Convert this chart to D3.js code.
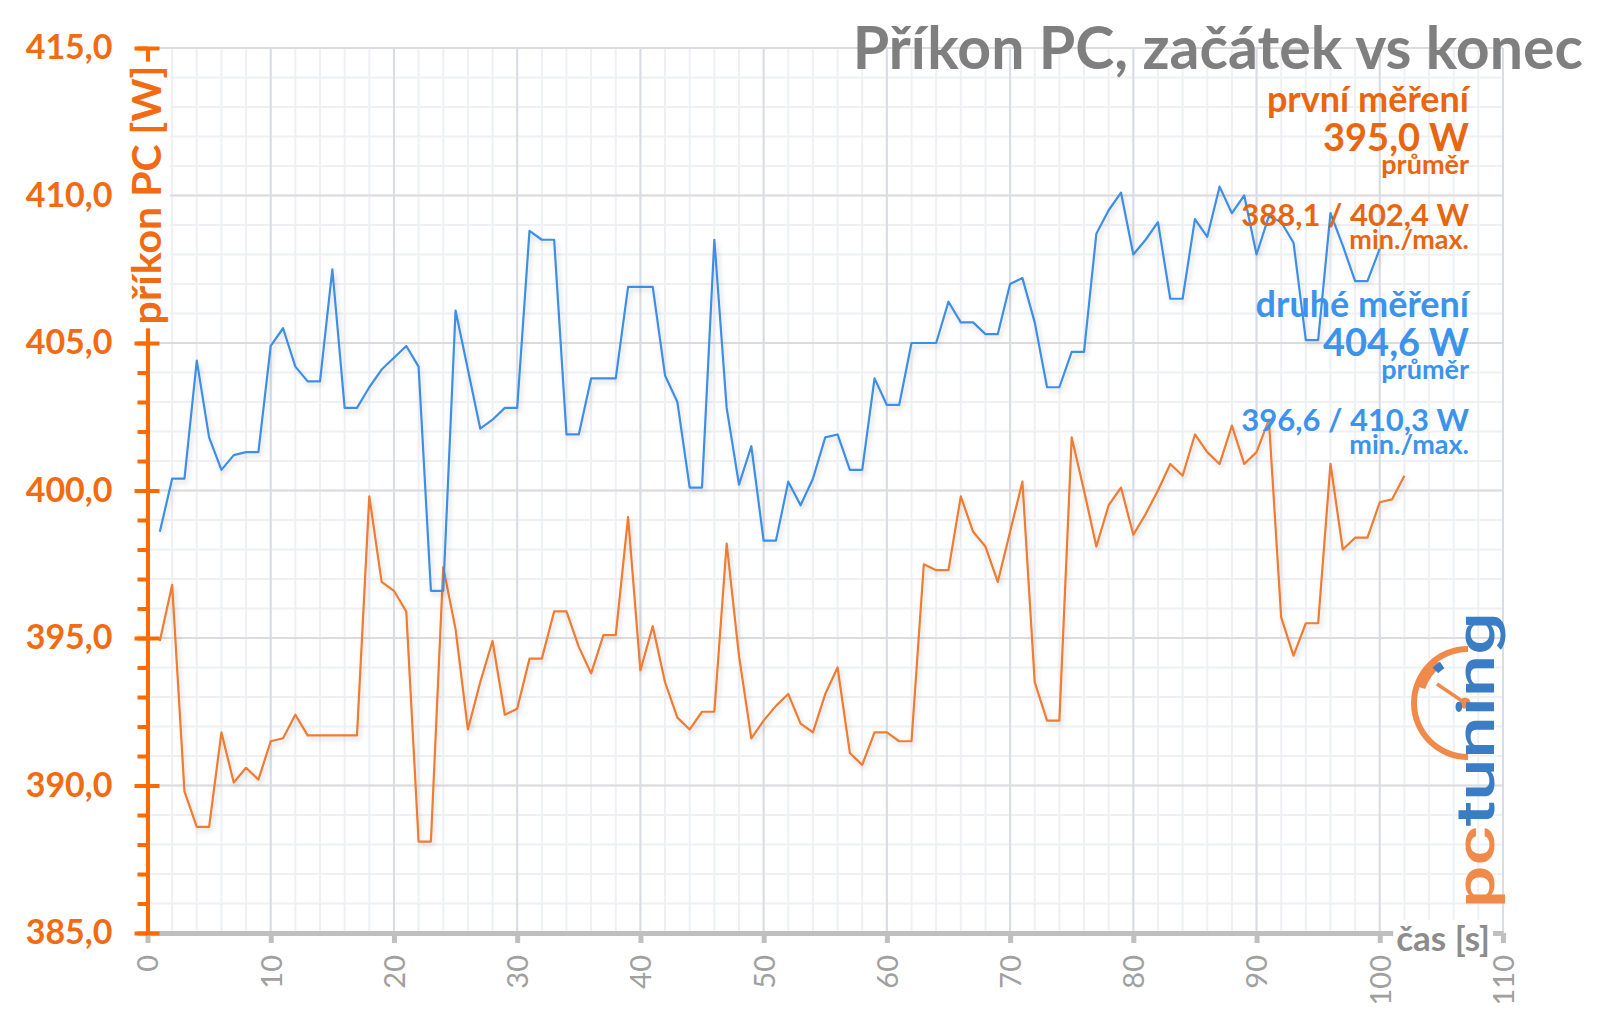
<!DOCTYPE html>
<html>
<head>
<meta charset="utf-8">
<script src="https://cdn.jsdelivr.net/npm/d3@7"></script>
<style>
  body { margin: 0; background: #fff; }
  svg { font-family: Lato, "Open Sans", sans-serif; }
</style>
</head>
<body>
<svg id="chart" width="1600" height="1017"></svg>
<script>
// time axis [s], one sample each second
let seconds = [
  1, 2, 3, 4, 5, 6, 7, 8, 9, 10, 11, 12, 13, 14, 15, 16, 17, 18, 19, 20,
  21, 22, 23, 24, 25, 26, 27, 28, 29, 30, 31, 32, 33, 34, 35, 36, 37, 38, 39, 40,
  41, 42, 43, 44, 45, 46, 47, 48, 49, 50, 51, 52, 53, 54, 55, 56, 57, 58, 59, 60,
  61, 62, 63, 64, 65, 66, 67, 68, 69, 70, 71, 72, 73, 74, 75, 76, 77, 78, 79, 80,
  81, 82, 83, 84, 85, 86, 87, 88, 89, 90, 91, 92, 93, 94, 95, 96, 97, 98, 99, 100,
  101, 102
];

// první měření (orange) [W]
let firstRun = [
  394.9, 396.8, 389.8, 388.6, 388.6, 391.8, 390.1, 390.6, 390.2, 391.5,
  391.6, 392.4, 391.7, 391.7, 391.7, 391.7, 391.7, 399.8, 396.9, 396.6,
  395.9, 388.1, 388.1, 397.4, 395.3, 391.9, 393.5, 394.9, 392.4, 392.6,
  394.3, 394.3, 395.9, 395.9, 394.7, 393.8, 395.1, 395.1, 399.1, 393.9,
  395.4, 393.5, 392.3, 391.9, 392.5, 392.5, 398.2, 394.4, 391.6, 392.2,
  392.7, 393.1, 392.1, 391.8, 393.1, 394.0, 391.1, 390.7, 391.8, 391.8,
  391.5, 391.5, 397.5, 397.3, 397.3, 399.8, 398.6, 398.1, 396.9, 398.6,
  400.3, 393.5, 392.2, 392.2, 401.8, 400.0, 398.1, 399.5, 400.1, 398.5,
  399.2, 400.0, 400.9, 400.5, 401.9, 401.3, 400.9, 402.2, 400.9, 401.3,
  402.4, 395.7, 394.4, 395.5, 395.5, 400.9, 398.0, 398.4, 398.4, 399.6,
  399.7, 400.5
];

// druhé měření (blue) [W]
let secondRun = [
  398.6, 400.4, 400.4, 404.4, 401.8, 400.7, 401.2, 401.3, 401.3, 404.9,
  405.5, 404.2, 403.7, 403.7, 407.5, 402.8, 402.8, 403.5, 404.1, 404.5,
  404.9, 404.2, 396.6, 396.6, 406.1, 404.1, 402.1, 402.4, 402.8, 402.8,
  408.8, 408.5, 408.5, 401.9, 401.9, 403.8, 403.8, 403.8, 406.9, 406.9,
  406.9, 403.9, 403.0, 400.1, 400.1, 408.5, 402.8, 400.2, 401.5, 398.3,
  398.3, 400.3, 399.5, 400.4, 401.8, 401.9, 400.7, 400.7, 403.8, 402.9,
  402.9, 405.0, 405.0, 405.0, 406.4, 405.7, 405.7, 405.3, 405.3, 407.0,
  407.2, 405.7, 403.5, 403.5, 404.7, 404.7, 408.7, 409.5, 410.1, 408.0,
  408.5, 409.1, 406.5, 406.5, 409.2, 408.6, 410.3, 409.4, 410.0, 408.0,
  409.3, 409.1, 408.4, 405.1, 405.1, 409.4, 408.3, 407.1, 407.1, 408.2
];

let xTicks = [0, 10, 20, 30, 40, 50, 60, 70, 80, 90, 100, 110];
let yTicks = [385, 390, 395, 400, 405, 410, 415];

let seriesNames = ["první měření", "druhé měření"];
let averageLabels = ["395,0 W", "404,6 W"];
let minMaxLabels = ["388,1 / 402,4 W", "396,6 / 410,3 W"];

let titleText = "Příkon PC, začátek vs konec";
let yTitle = "příkon PC [W]";
let xTitle = "čas [s]";

let drawChart = function() {
  let svg = d3.select("#chart");

  let orange = "#ee7b30";
  let orangeText = "#e8660f";
  let orangeAxis = "#ff6a00";
  let blue = "#3d8fe6";
  let blueText = "#3b93ec";

  let margin = { top: 48, right: 97, bottom: 84, left: 147.5 };
  let plotWidth = 1600 - margin.left - margin.right;
  let plotHeight = 1017 - margin.top - margin.bottom;

  let x = d3.scaleLinear().domain([0, 110]).range([0, plotWidth]);
  let y = d3.scaleLinear().domain([385, 415]).range([plotHeight, 0]);

  // soft shadow under the lines, like the office chart
  let defs = svg.append("defs");
  defs.append("filter").attr("id", "shadow")
    .attr("x", "-5%").attr("y", "-5%").attr("width", "110%").attr("height", "110%")
    .append("feDropShadow")
    .attr("dx", 2).attr("dy", 3).attr("stdDeviation", 2.5)
    .attr("flood-color", "#000").attr("flood-opacity", 0.16);

  let plot = svg.append("g")
    .attr("transform", "translate(" + margin.left + "," + margin.top + ")");

  // grid: minor every 2 s / 1 W, major at the ticks
  let grid = plot.append("g").attr("id", "grid");
  grid.selectAll("line.vminor")
    .data(d3.range(0, 111, 2))
    .enter().append("line")
    .attr("x1", d => x(d)).attr("x2", d => x(d))
    .attr("y1", 0).attr("y2", plotHeight)
    .attr("stroke", "#eef0f4").attr("stroke-width", 2);
  grid.selectAll("line.hminor")
    .data(d3.range(385, 416, 1))
    .enter().append("line")
    .attr("x1", 0).attr("x2", plotWidth)
    .attr("y1", d => y(d)).attr("y2", d => y(d))
    .attr("stroke", "#eef0f4").attr("stroke-width", 2);
  grid.selectAll("line.vmajor")
    .data(xTicks)
    .enter().append("line")
    .attr("x1", d => x(d)).attr("x2", d => x(d))
    .attr("y1", 0).attr("y2", plotHeight)
    .attr("stroke", "#d9dce4").attr("stroke-width", 2);
  grid.selectAll("line.hmajor")
    .data(yTicks)
    .enter().append("line")
    .attr("x1", 0).attr("x2", plotWidth)
    .attr("y1", d => y(d)).attr("y2", d => y(d))
    .attr("stroke", "#dcdcdf").attr("stroke-width", 2);

  // pctuning logo
  let logo = svg.append("g").attr("id", "logo");
  let cx = 1468, cy = 703;
  logo.append("path")
    .attr("transform", "translate(" + cx + "," + cy + ")")
    .attr("d", d3.arc()({ innerRadius: 51, outerRadius: 57, startAngle: Math.PI, endAngle: 2 * Math.PI }))
    .attr("fill", "#f08a4b");
  logo.append("path")
    .attr("transform", "translate(" + cx + "," + cy + ")")
    .attr("d", d3.arc()({ innerRadius: 45, outerRadius: 52, startAngle: Math.PI * 1.6, endAngle: Math.PI * 1.8 }))
    .attr("fill", "#f08a4b");
  logo.append("path")
    .attr("transform", "translate(" + cx + "," + cy + ")")
    .attr("d", d3.arc()({ innerRadius: 42, outerRadius: 50, startAngle: Math.PI * 1.75, endAngle: Math.PI * 1.81 }))
    .attr("fill", "#3b7dc4");
  logo.append("line")
    .attr("x1", 1437).attr("y1", 684).attr("x2", cx - 3).attr("y2", cy)
    .attr("stroke", "#f08a4b").attr("stroke-width", 3.5);
  logo.append("circle").attr("cx", cx - 3).attr("cy", cy).attr("r", 5.5).attr("fill", "#f08a4b");
  let logoText = logo.append("text")
    .attr("transform", "translate(1494,908) rotate(-90)")
    .attr("font-family", "Roboto, sans-serif")
    .attr("font-weight", 500)
    .attr("font-size", 54)
    .attr("textLength", 296)
    .attr("lengthAdjust", "spacingAndGlyphs");
  logoText.append("tspan").attr("fill", "#f08a4b").text("pc");
  logoText.append("tspan").attr("fill", "#3b7dc4").text("tuning");

  // the two measurements
  let line = d3.line()
    .x((d, i) => x(seconds[i]))
    .y(d => y(d));

  plot.append("path")
    .datum(firstRun)
    .attr("d", line)
    .attr("fill", "none")
    .attr("stroke", orange)
    .attr("stroke-width", 2.2)
    .attr("stroke-linejoin", "round")
    .attr("filter", "url(#shadow)");

  plot.append("path")
    .datum(secondRun)
    .attr("d", line)
    .attr("fill", "none")
    .attr("stroke", blue)
    .attr("stroke-width", 2.2)
    .attr("stroke-linejoin", "round")
    .attr("filter", "url(#shadow)");

  // x axis
  let xAxis = d3.axisBottom(x).tickValues(xTicks).tickSize(10).tickSizeOuter(0);
  let xGroup = plot.append("g").attr("id", "x-axis")
    .attr("transform", "translate(0," + plotHeight + ")")
    .call(xAxis);
  xGroup.select(".domain").attr("stroke", "#bfbfbf").attr("stroke-width", 5);
  xGroup.selectAll(".tick line").attr("stroke", "#bfbfbf").attr("stroke-width", 5);
  xGroup.selectAll(".tick text")
    .attr("transform", "rotate(-90)")
    .attr("text-anchor", "end")
    .attr("x", -22).attr("y", 0).attr("dy", "0.36em")
    .attr("fill", "#a0a0a0")
    .attr("font-size", 29)
    .attr("font-family", "Lato, sans-serif");

  // y axis: major ticks cross the line, minor ticks every 1 W outside
  let fmt = v => d3.format(".1f")(v).replace(".", ",");
  let yMinor = d3.axisLeft(y).tickValues(d3.range(385, 416, 1)).tickSize(10).tickFormat("");
  let yMinorGroup = plot.append("g").call(yMinor);
  yMinorGroup.select(".domain").remove();
  yMinorGroup.selectAll(".tick line").attr("stroke", orangeAxis).attr("stroke-width", 4);

  let yAxis = d3.axisLeft(y).tickValues(yTicks).tickSize(13).tickPadding(22).tickFormat(fmt).tickSizeOuter(0);
  let yGroup = plot.append("g").attr("id", "y-axis").call(yAxis);
  yGroup.select(".domain").attr("stroke", orangeAxis).attr("stroke-width", 4);
  yGroup.selectAll(".tick line").attr("x1", 12).attr("stroke", orangeAxis).attr("stroke-width", 4);
  yGroup.selectAll(".tick text")
    .attr("fill", "#f26b12")
    .attr("font-size", 34)
    .attr("font-weight", 700)
    .attr("font-family", "Lato, sans-serif");

  // axis titles sit on a white patch over the axis lines
  let yT = svg.append("text")
    .attr("transform", "translate(161,195) rotate(-90)")
    .attr("text-anchor", "middle")
    .attr("fill", "#f26b12")
    .attr("font-size", 41)
    .attr("font-weight", 700)
    .text(yTitle);
  let yb = yT.node().getBBox();
  svg.insert("rect", function() { return yT.node(); })
    .attr("transform", "translate(161,195) rotate(-90)")
    .attr("x", yb.x - 4).attr("y", yb.y).attr("width", yb.width + 8).attr("height", yb.height)
    .attr("fill", "#fff");

  let xT = svg.append("text")
    .attr("x", 1490).attr("y", 951)
    .attr("text-anchor", "end")
    .attr("fill", "#8c8c8c")
    .attr("font-size", 35)
    .attr("font-weight", 700)
    .text(xTitle);
  let xb = xT.node().getBBox();
  svg.insert("rect", function() { return xT.node(); })
    .attr("x", xb.x - 3).attr("y", xb.y + 4).attr("width", xb.width + 6).attr("height", xb.height - 8)
    .attr("fill", "#fff");

  // title
  svg.append("text")
    .attr("x", 1583).attr("y", 69)
    .attr("text-anchor", "end")
    .attr("fill", "#7f7f7f")
    .attr("font-size", 59)
    .attr("font-weight", 700)
    .text(titleText);

  // legend block with averages and min/max
  let legend = svg.append("g").attr("id", "legend")
    .attr("text-anchor", "end")
    .attr("font-weight", 700);
  let legendRight = 1469;
  let colors = [orangeText, blueText];
  [0, 1].forEach(i => {
    let top = i * 205;
    legend.append("text").attr("x", legendRight).attr("y", 112 + top)
      .attr("fill", colors[i]).attr("font-size", 36).text(seriesNames[i]);
    legend.append("text").attr("x", legendRight).attr("y", 151 + top)
      .attr("fill", colors[i]).attr("font-size", 38).text(averageLabels[i]);
    legend.append("text").attr("x", legendRight).attr("y", 174 + top)
      .attr("fill", colors[i]).attr("font-size", 27).text("průměr");
    legend.append("text").attr("x", legendRight).attr("y", 226 + top)
      .attr("fill", colors[i]).attr("font-size", 31).text(minMaxLabels[i]);
    legend.append("text").attr("x", legendRight).attr("y", 249 + top)
      .attr("fill", colors[i]).attr("font-size", 27).text("min./max.");
  });
};

drawChart();
</script>
</body>
</html>
